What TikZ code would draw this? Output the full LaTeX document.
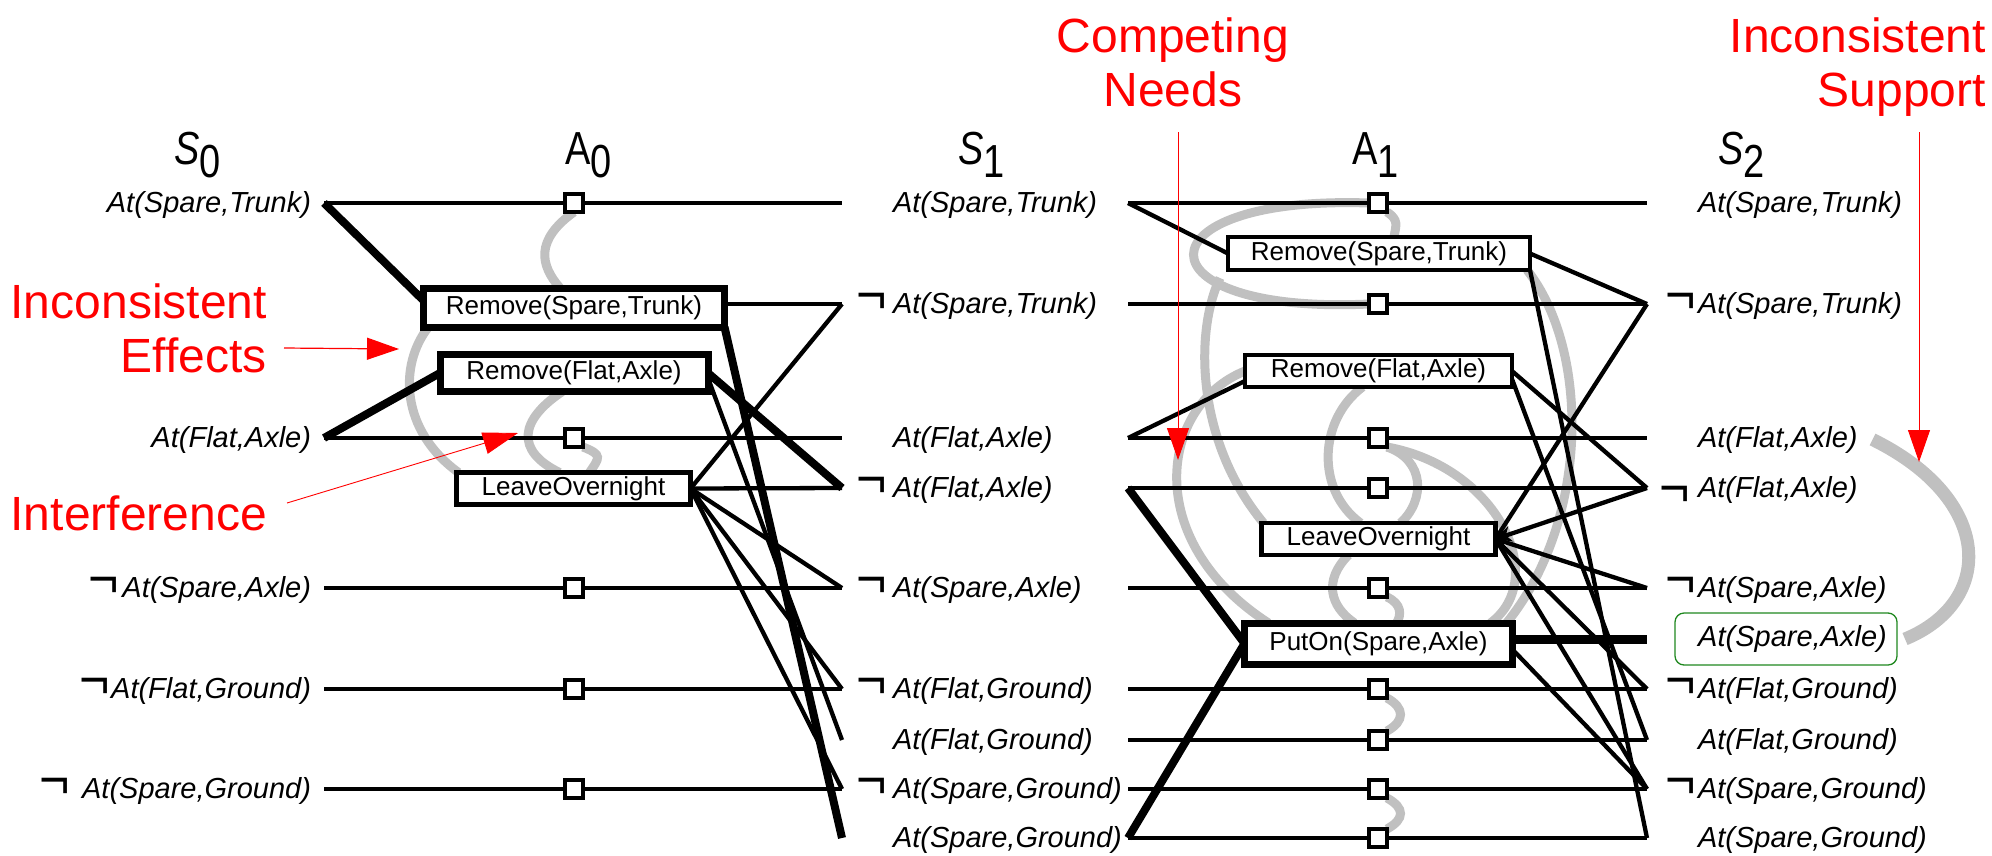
\documentclass[tikz,border=0pt]{standalone}
\usepackage{fontspec}
\usepackage{graphicx}
\setmainfont{Liberation Sans}
\usetikzlibrary{arrows.meta}
\definecolor{mutexgrey}{RGB}{192,192,192}
\definecolor{noteRed}{RGB}{255,0,0}
\definecolor{goalGreen}{RGB}{30,135,30}
\newcommand{\nt}{\scalebox{1.8}[1.9]{¬}}
\newcommand{\lvl}[2]{\scalebox{1}[1.22]{#1\raisebox{-11pt}{#2}}}
\pgfdeclarelayer{mutexlayer}
\pgfdeclarelayer{linklayer}
\pgfsetlayers{mutexlayer,linklayer,main}

\begin{document}
\begin{tikzpicture}[x=1pt,y=-1pt,
  lbl/.style={font=\fontsize{29}{29}\selectfont\itshape, inner sep=0pt, outer sep=0pt},
  hdr/.style={font=\fontsize{38}{38}\selectfont, inner sep=0pt, anchor=base west},
  act/.style={draw, fill=white, font=\fontsize{26}{26}\selectfont, inner sep=0pt, outer sep=0pt},
  pers/.style={draw, fill=white, line width=4.5pt, minimum size=18pt, inner sep=0pt, outer sep=0pt},
  row/.style={line width=4.5pt},
  link/.style={line width=4.3pt},
  heavy/.style={line width=8pt},
  mutex/.style={draw=mutexgrey, line width=9pt},
  note/.style={text=noteRed, font=\fontsize{48}{54}\selectfont, inner sep=0pt},
  notearrow/.style={draw=noteRed, line width=1.2pt, -{Triangle[length=32pt,width=22pt]}},
]
\useasboundingbox (0,0) rectangle (1992,855);

% proposition rows: line end points for both levels
\foreach \i/\y in {1/203,2/304,3/438,4/488,5/588,6/639,7/689,8/740,9/789,10/838} {
  \coordinate (a\i) at (324,\y);
  \coordinate (b\i) at (842,\y);
  \coordinate (c\i) at (1128,\y);
  \coordinate (d\i) at (1647,\y);
}

% persistence actions
\foreach \i/\y in {1/203,3/438,5/588,7/689,9/789}
  \node[pers] (p0-\i) at (574,\y) {};
\foreach \i/\y in {1/203,2/304,3/438,4/488,5/588,7/689,8/740,9/789,10/838}
  \node[pers] (p1-\i) at (1378,\y) {};

% actions A0
\node[act, line width=7pt, minimum width=301pt, minimum height=39pt] (rst0) at (574,307.5) {Remove(Spare,Trunk)};
\node[act, line width=7pt, minimum width=268pt, minimum height=37.5pt] (rfa0) at (574,373) {Remove(Flat,Axle)};
\node[act, line width=5pt, minimum width=234pt, minimum height=32pt] (lov0) at (573.5,488.5) {LeaveOvernight};

% actions A1
\node[act, line width=4.5pt, minimum width=302pt, minimum height=33pt] (rst1) at (1379,253.5) {Remove(Spare,Trunk)};
\node[act, line width=4.5pt, minimum width=267pt, minimum height=32pt] (rfa1) at (1378.5,371) {Remove(Flat,Axle)};
\node[act, line width=4.5pt, minimum width=234pt, minimum height=32pt] (lov1) at (1378.5,539) {LeaveOvernight};
\node[act, line width=7pt, minimum width=268pt, minimum height=41pt] (put1) at (1378.5,643.5) {PutOn(Spare,Axle)};

% level headers
\node[hdr] (hs0) at (174,164) {\lvl{\textit{S}}{0}};
\node[hdr] (ha0) at (565,164) {\lvl{A}{0}};
\node[hdr] (hs1) at (958,164) {\lvl{\textit{S}}{1}};
\node[hdr] (ha1) at (1352,164) {\lvl{A}{1}};
\node[hdr] (hs2) at (1718,164) {\lvl{\textit{S}}{2}};

% state S0
\node[lbl, anchor=base east] (s0-1) at (311,212) {At(Spare,Trunk)};
\node[lbl, anchor=base east] (s0-3) at (311,447) {At(Flat,Axle)};
\node[lbl, anchor=base east] (s0-5) at (311,597) {\nt\hspace{3pt}At(Spare,Axle)};
\node[lbl, anchor=base east] (s0-7) at (311,698) {\nt\hspace{1pt}At(Flat,Ground)};
\node[lbl, anchor=base east] (s0-9) at (311,798) {\nt\hspace{12pt}At(Spare,Ground)};

% state S1
\node[lbl, anchor=base west] (s1-1) at (893,212) {At(Spare,Trunk)};
\node[lbl, anchor=base west] (s1-2) at (893,313) {\llap{\nt\hspace{6pt}}At(Spare,Trunk)};
\node[lbl, anchor=base west] (s1-3) at (893,447) {At(Flat,Axle)};
\node[lbl, anchor=base west] (s1-4) at (893,497) {\llap{\nt\hspace{6pt}}At(Flat,Axle)};
\node[lbl, anchor=base west] (s1-5) at (893,597) {\llap{\nt\hspace{6pt}}At(Spare,Axle)};
\node[lbl, anchor=base west] (s1-7) at (893,698) {\llap{\nt\hspace{6pt}}At(Flat,Ground)};
\node[lbl, anchor=base west] (s1-8) at (893,749) {At(Flat,Ground)};
\node[lbl, anchor=base west] (s1-9) at (893,798) {\llap{\nt\hspace{6pt}}At(Spare,Ground)};
\node[lbl, anchor=base west] (s1-10) at (893,847) {At(Spare,Ground)};

% state S2
\node[lbl, anchor=base west] (s2-1) at (1698,212) {At(Spare,Trunk)};
\node[lbl, anchor=base west] (s2-2) at (1698,313) {\llap{\nt\hspace{2pt}}At(Spare,Trunk)};
\node[lbl, anchor=base west] (s2-3) at (1698,447) {At(Flat,Axle)};
\node[lbl, anchor=base west] (s2-4) at (1698,497) {\llap{\raisebox{-9pt}{\nt}\hspace{8pt}}At(Flat,Axle)};
\node[lbl, anchor=base west] (s2-5) at (1698,597) {\llap{\nt\hspace{2pt}}At(Spare,Axle)};
\node[lbl, draw=goalGreen, line width=1.3pt, rounded corners=9pt,
      minimum width=222pt, minimum height=52pt] (goal) at (1786,639) {\hspace{13pt}At(Spare,Axle)};
\node[lbl, anchor=base west] (s2-7) at (1698,698) {\llap{\nt\hspace{2pt}}At(Flat,Ground)};
\node[lbl, anchor=base west] (s2-8) at (1698,749) {At(Flat,Ground)};
\node[lbl, anchor=base west] (s2-9) at (1698,798) {\llap{\nt\hspace{2pt}}At(Spare,Ground)};
\node[lbl, anchor=base west] (s2-10) at (1698,847) {At(Spare,Ground)};

% mutex links
\begin{pgfonlayer}{mutexlayer}
  % level 0
  \draw[mutex] (p0-1.south) .. controls +(-39,28) and +(-20,-23) .. ([xshift=-14pt]rst0.north);
  \draw[mutex] ([xshift=5pt]rst0.south west) .. controls +(-30,38) and +(-58,-42) .. ([xshift=2pt]lov0.north west);
  \draw[mutex] ([xshift=-12pt]rfa0.south) .. controls +(-42,28) and +(-45,-22) .. ([xshift=-14pt]lov0.north);
  \draw[mutex] (p0-3.south east) .. controls +(20,8) and +(10,-15) .. ([xshift=16pt]lov0.north);
  % level 1
  \draw[mutex] (p1-1.west) .. controls +(-234,-8) and +(-234,11) .. (p1-2.west);
  \draw[mutex] (p1-1.south east) .. controls +(12,8) and +(2,-12) .. ([xshift=15pt]rst1.north);
  \draw[mutex] ([xshift=-8pt,yshift=-8pt]rst1.south west) .. controls +(-25,52) and +(-68.5,-83) .. ([xshift=2pt]lov1.north west);
  \draw[mutex] (rfa1.west) .. controls +(-85,34) and +(-128.5,-83) .. ([xshift=24pt]put1.north west);
  \draw[mutex] ([xshift=-16pt]rfa1.south) .. controls +(-44,33) and +(-45,-33) .. ([xshift=-18pt]lov1.north);
  \draw[mutex] (p1-3.south east) .. controls +(38,13) and +(25,-23) .. ([xshift=22pt]lov1.north);
  \draw[mutex] (p1-3.south east) .. controls +(110,20) and +(60,-45) .. ([xshift=-22pt]put1.north east);
  \draw[mutex] ([xshift=-3pt]rst1.south east) .. controls +(63,80) and +(83.5,-103) .. ([xshift=-6pt]put1.north east);
  \draw[mutex] ([xshift=-30pt]lov1.south) .. controls +(-25,25) and +(-25,-17) .. ([xshift=-24pt]put1.north);
  \draw[mutex] (p1-5.south east) .. controls +(15,7) and +(5,-8) .. ([xshift=18pt]put1.north);
  \draw[mutex] (p1-7.south east) .. controls +(18,10) and +(18,-10) .. (p1-8.north east);
  \draw[mutex] (p1-9.south east) .. controls +(18,10) and +(18,-10) .. (p1-10.north east);
  % S2: goal literal against At(Flat,Axle)
  \draw[mutex, line width=13pt] ([xshift=15pt]s2-3.east) .. controls +(122,60) and +(90,-37) .. ([xshift=8pt]goal.east);
\end{pgfonlayer}

% precondition, effect and persistence links
\begin{pgfonlayer}{linklayer}
  \foreach \i in {1,3,5,7,9} \draw[row] (a\i) -- (b\i);
  \foreach \i in {1,2,3,4,5,7,8,9,10} \draw[row] (c\i) -- (d\i);
  % level 0
  \draw[heavy] (a1) -- ([yshift=7pt]rst0.west);
  \draw[heavy] (a3) -- (rfa0.west);
  \draw[link] (rst0.east |- b2) -- (b2);
  \draw[heavy] (rst0.south east) -- (b10);
  \draw[heavy] (rfa0.east) -- (b4);
  \draw[link] ([yshift=-5pt]rfa0.east) -- (b8);
  \foreach \t in {2,4,5,7,9} \draw[link] (lov0.east) -- (b\t);
  % level 1
  \draw[link] (c1) -- (rst1.west);
  \draw[link] (c3) -- ([yshift=6pt]rfa1.south west);
  \draw[heavy] (c4) -- (put1.west);
  \draw[heavy] (c10) -- (put1.west);
  \draw[link] (rst1.east) -- (d2);
  \draw[link] (rst1.south east) -- (d10);
  \draw[link] (rfa1.east) -- (d4);
  \draw[link] ([yshift=-8pt]rfa1.east) -- (d8);
  \foreach \t in {2,5,7,9} \draw[link] (d\t) -- (lov1.east);
  \draw[link, -{Stealth[length=16pt,width=16pt]}] (d4) -- (lov1.east);
  \draw[heavy, line width=9pt] (put1.east |- d6) -- (d6);
  \draw[link] ([yshift=-6pt]put1.east) -- (d9);
\end{pgfonlayer}

% annotations (base anchor sits on the last line)
\node[note, anchor=base east, align=right] (ieff) at (267,372) {Inconsistent\\Effects};
\node[note, anchor=base east] (intf) at (267,530) {Interference};
\node[note, anchor=base, align=center] (cneed) at (1173,106) {Competing\\Needs};
\node[note, anchor=base east, align=right] (isup) at (1986,106) {Inconsistent\\Support};
\coordinate (ieffTail) at (284,348);
\coordinate (ieffTip) at (399,349);
\coordinate (intfTail) at (287,503);
\coordinate (intfTip) at (518,433);
\coordinate (cneedTail) at (1178,132);
\coordinate (cneedTip) at (1178,460);
\coordinate (isupTail) at (1919,132);
\coordinate (isupTip) at (1919,462);
\draw[notearrow] (ieffTail) -- (ieffTip);
\draw[notearrow, line width=0.9pt, -{Triangle[length=35pt,width=22pt]}] (intfTail) -- (intfTip);
\draw[notearrow, line width=1pt] (cneedTail) -- (cneedTip);
\draw[notearrow, line width=1pt] (isupTail) -- (isupTip);
\end{tikzpicture}
\end{document}
